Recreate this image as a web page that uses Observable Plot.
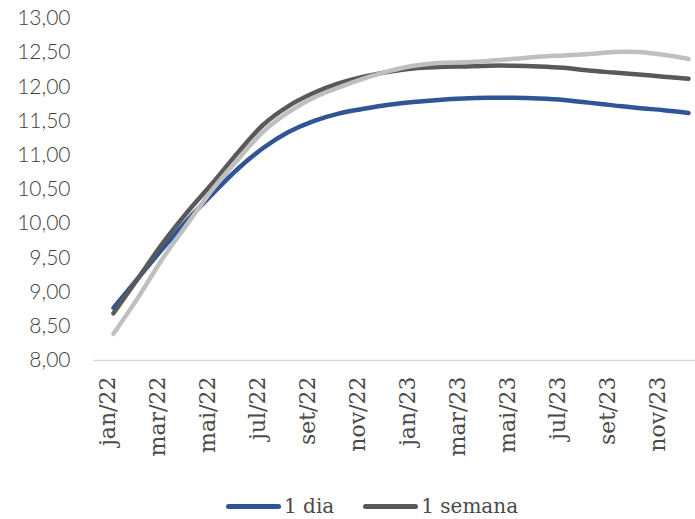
<!DOCTYPE html>
<html>
<head>
<meta charset="utf-8">
<script src="https://cdn.jsdelivr.net/npm/d3@7"></script>
<script src="https://cdn.jsdelivr.net/npm/@observablehq/plot@0.6"></script>
<style>
  html, body { margin: 0; padding: 0; background: #fff; }
  #chart { width: 695px; }
  .legend { display: flex; justify-content: flex-start; align-items: center; height: 26px; padding-top: 18px; padding-left: 226px;
            font-family: "DejaVu Serif", serif; font-size: 20px; color: #4a4a4a; }
  .legend .item { display: flex; align-items: center; margin-right: 29px; }
  .legend .sw { width: 55px; height: 5px; border-radius: 2.5px; margin-right: 3px; }
</style>
</head>
<body>
<div id="chart"></div>
<script>
const months = ["jan/22","fev/22","mar/22","abr/22","mai/22","jun/22","jul/22","ago/22","set/22","out/22","nov/22","dez/22",
                "jan/23","fev/23","mar/23","abr/23","mai/23","jun/23","jul/23","ago/23","set/23","out/23","nov/23","dez/23"];
const tickLabels = ["jan/22","mar/22","mai/22","jul/22","set/22","nov/22","jan/23","mar/23","mai/23","jul/23","set/23","nov/23"];
const yTicks = [8, 8.5, 9, 9.5, 10, 10.5, 11, 11.5, 12, 12.5, 13];

const umDia    = [8.77, 9.21, 9.65, 10.07, 10.45, 10.81, 11.11, 11.34, 11.50, 11.61, 11.68, 11.74, 11.78, 11.81, 11.83, 11.84, 11.84, 11.83, 11.81, 11.77, 11.73, 11.69, 11.66, 11.62];
const umaSemana= [8.69, 9.21, 9.73, 10.19, 10.61, 11.05, 11.45, 11.72, 11.91, 12.05, 12.15, 12.22, 12.27, 12.29, 12.30, 12.31, 12.31, 12.30, 12.28, 12.24, 12.21, 12.18, 12.15, 12.12];
const terceira = [8.39, 8.93, 9.51, 10.02, 10.52, 10.95, 11.35, 11.63, 11.84, 11.99, 12.12, 12.23, 12.31, 12.35, 12.36, 12.38, 12.41, 12.44, 12.46, 12.48, 12.51, 12.51, 12.47, 12.41];

const seriesNames = ["1 dia", "1 semana", "3"];
const seriesColors = ["#2F5597", "#595959", "#BFBFBF"];
const seriesValues = [umDia, umaSemana, terceira];

const rows = [];
seriesValues.forEach((vals, s) => vals.forEach((v, i) => rows.push({serie: seriesNames[s], mes: months[i], valor: v})));

const fmt = v => v.toFixed(2).replace(".", ",");

const chart = Plot.plot({
  width: 695,
  height: 475,
  marginLeft: 93,
  marginRight: -12,
  marginTop: 18,
  marginBottom: 115,
  style: { fontFamily: "Lato, sans-serif", background: "#fff", overflow: "hidden" },
  x: { type: "point", domain: months, padding: 0.5 },
  y: { domain: [8, 13] },
  color: { domain: seriesNames, range: seriesColors },
  marks: [
    Plot.ruleY([8], { stroke: "#D9D9D9", strokeWidth: 1.5 }),
    Plot.axisY({ ticks: yTicks, tickFormat: fmt, tickSize: 0, tickPadding: 23, fontSize: 21, fontWeight: 300, fill: "#404040", label: null }),
    Plot.axisX({ ticks: tickLabels, tickSize: 0, tickRotate: -90, tickPadding: 16, dx: -6, fontSize: 22, fill: "#4a4a4a",
                 fontFamily: "DejaVu Serif, serif", label: null }),
    Plot.line(rows, { x: "mes", y: "valor", z: "serie", stroke: "serie", strokeWidth: 4.5,
                      curve: "catmull-rom", strokeLinecap: "round", strokeLinejoin: "round" })
  ]
});
document.getElementById("chart").appendChild(chart);

const legend = document.createElement("div");
legend.className = "legend";
[0, 1].forEach(s => {
  const item = document.createElement("div");
  item.className = "item";
  const sw = document.createElement("span");
  sw.className = "sw";
  sw.style.background = seriesColors[s];
  const t = document.createElement("span");
  t.textContent = seriesNames[s];
  item.appendChild(sw); item.appendChild(t);
  legend.appendChild(item);
});
document.getElementById("chart").appendChild(legend);
</script>
</body>
</html>
